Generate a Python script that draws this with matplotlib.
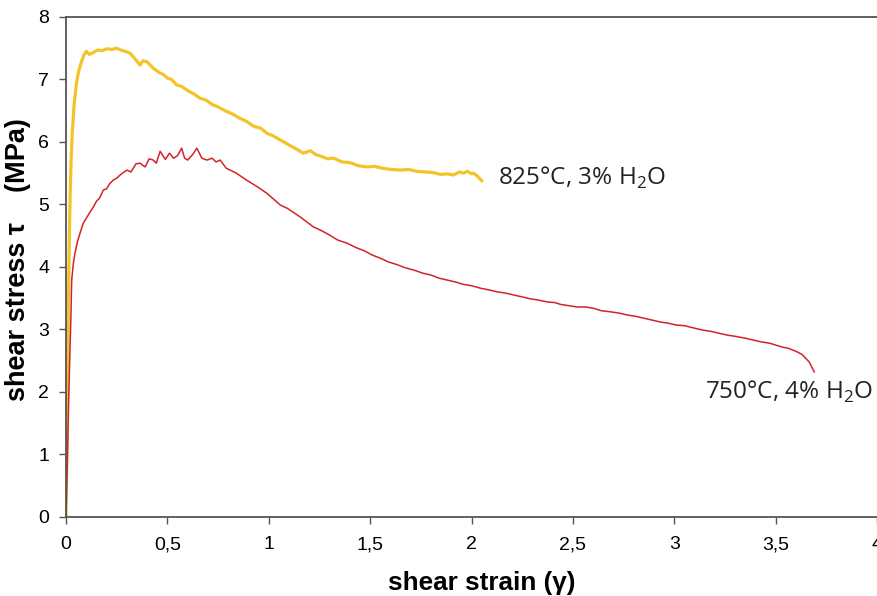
import numpy as np
import matplotlib
matplotlib.use("Agg")
import matplotlib.pyplot as plt

# values (shear strain, shear stress in MPa)
strain_825 = [0.0, 0.004, 0.008, 0.012, 0.016, 0.02, 0.025, 0.03, 0.04, 0.05, 0.06,
              0.07, 0.08, 0.09, 0.10, 0.115, 0.135, 0.155, 0.18, 0.20, 0.225, 0.25,
              0.27, 0.30, 0.316, 0.34, 0.365, 0.38, 0.40, 0.43, 0.464, 0.48, 0.50,
              0.52, 0.547, 0.57, 0.60, 0.63, 0.66, 0.69, 0.72, 0.75, 0.79, 0.82,
              0.85, 0.89, 0.925, 0.96, 0.99, 1.02, 1.057, 1.08, 1.10, 1.14, 1.17,
              1.205, 1.23, 1.25, 1.29, 1.32, 1.36, 1.40, 1.44, 1.485, 1.52, 1.56,
              1.60, 1.65, 1.69, 1.73, 1.77, 1.81, 1.85, 1.88, 1.91, 1.94, 1.96,
              1.98, 2.00, 2.01, 2.03, 2.05]
stress_825 = [0.0, 1.0, 2.3, 3.5, 4.4, 5.1, 5.7, 6.1, 6.6, 6.9, 7.1,
              7.22, 7.32, 7.40, 7.45, 7.40, 7.43, 7.47, 7.46, 7.49, 7.48, 7.50,
              7.47, 7.44, 7.42, 7.33, 7.23, 7.30, 7.28, 7.18, 7.10, 7.08, 7.02,
              7.00, 6.91, 6.89, 6.82, 6.77, 6.70, 6.67, 6.60, 6.56, 6.49, 6.45,
              6.39, 6.33, 6.25, 6.22, 6.14, 6.10, 6.03, 5.99, 5.95, 5.88, 5.82,
              5.86, 5.80, 5.78, 5.73, 5.74, 5.68, 5.67, 5.62, 5.60, 5.61, 5.58,
              5.56, 5.55, 5.56, 5.53, 5.52, 5.51, 5.48, 5.49, 5.47, 5.52, 5.50,
              5.53, 5.49, 5.50, 5.45, 5.38]

strain_750 = [0.0, 0.006, 0.012, 0.018, 0.024, 0.028, 0.036, 0.044, 0.056, 0.069,
              0.085, 0.10, 0.115, 0.135, 0.15, 0.165, 0.184, 0.20, 0.215, 0.233,
              0.25, 0.27, 0.30, 0.32, 0.345, 0.365, 0.39, 0.41, 0.43, 0.445, 0.464,
              0.49, 0.51, 0.53, 0.55, 0.57, 0.585, 0.60, 0.625, 0.645, 0.67, 0.695,
              0.72, 0.74, 0.76, 0.79, 0.84, 0.89, 0.94, 0.99, 1.057, 1.09, 1.155,
              1.22, 1.26, 1.30, 1.34, 1.386, 1.43, 1.47, 1.51, 1.55, 1.59, 1.63,
              1.67, 1.715, 1.76, 1.80, 1.84, 1.88, 1.92, 1.96, 2.00, 2.044, 2.09,
              2.13, 2.17, 2.21, 2.25, 2.29, 2.33, 2.374, 2.41, 2.44, 2.48, 2.52,
              2.56, 2.60, 2.64, 2.69, 2.73, 2.77, 2.81, 2.85, 2.89, 2.93, 2.97,
              3.01, 3.05, 3.10, 3.14, 3.18, 3.22, 3.26, 3.30, 3.35, 3.39, 3.43,
              3.47, 3.50, 3.53, 3.56, 3.60, 3.63, 3.665, 3.69]
stress_750 = [0.0, 0.8, 1.7, 2.5, 3.2, 3.79, 4.05, 4.22, 4.40, 4.54,
              4.70, 4.78, 4.86, 4.96, 5.05, 5.10, 5.23, 5.25, 5.33, 5.39,
              5.42, 5.48, 5.55, 5.52, 5.65, 5.66, 5.60, 5.73, 5.71, 5.66, 5.85,
              5.72, 5.82, 5.74, 5.78, 5.90, 5.74, 5.71, 5.80, 5.90, 5.74, 5.71,
              5.74, 5.68, 5.71, 5.58, 5.50, 5.39, 5.29, 5.18, 4.99, 4.94, 4.80,
              4.64, 4.58, 4.51, 4.43, 4.38, 4.31, 4.26, 4.19, 4.14, 4.08, 4.04,
              3.99, 3.95, 3.90, 3.87, 3.82, 3.79, 3.76, 3.72, 3.70, 3.66, 3.63,
              3.60, 3.58, 3.55, 3.52, 3.49, 3.47, 3.44, 3.43, 3.40, 3.38, 3.36,
              3.36, 3.34, 3.30, 3.28, 3.26, 3.23, 3.21, 3.18, 3.15, 3.12, 3.10,
              3.07, 3.06, 3.02, 2.99, 2.97, 2.94, 2.91, 2.89, 2.86, 2.83, 2.80,
              2.78, 2.75, 2.72, 2.70, 2.65, 2.60, 2.48, 2.32]

x_ticks = [0, 0.5, 1, 1.5, 2, 2.5, 3, 3.5, 4]
x_tick_labels = ["0", "0,5", "1", "1,5", "2", "2,5", "3", "3,5", "4"]
y_ticks = [0, 1, 2, 3, 4, 5, 6, 7, 8]

label_825 = "825°C, 3% H$_2$O"
label_750 = "750°C, 4% H$_2$O"

plt.rcParams['font.family'] = ['Liberation Sans', 'DejaVu Sans']
plt.rcParams['mathtext.fontset'] = 'custom'
plt.rcParams['mathtext.rm'] = 'Open Sans'

fig = plt.figure(figsize=(8.78, 5.96), dpi=100)
ax = fig.add_axes([0.0752, 0.1326, 0.9238, 0.839])

ax.plot(strain_825, stress_825, color='#f2c42a', lw=2.3, solid_joinstyle='round')
ax.plot(strain_750, stress_750, color='#d3232a', lw=1.1, solid_joinstyle='round')

ax.set_xlim(0, 4)
ax.set_ylim(0, 8)
ax.set_xticks(x_ticks)
ax.set_xticklabels(x_tick_labels)
ax.set_yticks(y_ticks)
ax.tick_params(labelsize=14, length=5, width=1.0, color='#555555', pad=7)
ax.tick_params(axis='x', pad=9)

for side in ['left', 'bottom', 'top']:
    ax.spines[side].set_color('#555555')
    ax.spines[side].set_linewidth(1.3)
ax.spines['right'].set_visible(False)

ax.set_xlabel("shear strain (γ)", fontsize=18.8, fontweight='bold', labelpad=13, x=0.512)
ax.set_ylabel("shear stress τ    (MPa)", fontsize=19.5, fontweight='bold', labelpad=5, y=0.514)

ax.text(2.13, 5.42, label_825, fontsize=17.5, family='Open Sans', va='center', ha='left',
        color='#222222')
ax.text(3.15, 2.0, label_750, fontsize=17.5, family='Open Sans', va='center', ha='left',
        color='#222222')

fig.savefig("out.png", dpi=100)
